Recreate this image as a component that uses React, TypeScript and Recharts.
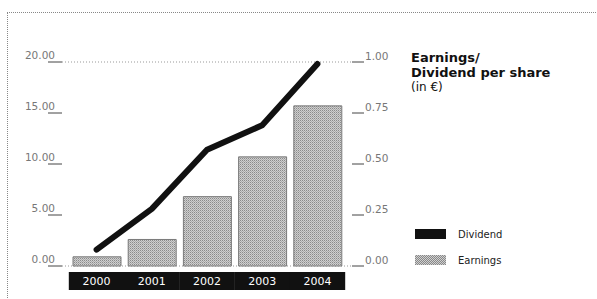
import {
  ComposedChart,
  Bar,
  Line,
  XAxis,
  YAxis,
  CartesianGrid,
  Legend,
} from "recharts";

const years = ["2000", "2001", "2002", "2003", "2004"];
const earnings = [0.9, 2.6, 6.8, 10.7, 15.7];
const dividend = [0.08, 0.28, 0.57, 0.69, 0.99];
const leftTicks = [0, 5, 10, 15, 20];
const rightTicks = [0, 0.25, 0.5, 0.75, 1];

const data = years.map((year, i) => ({
  year,
  earnings: earnings[i],
  dividend: dividend[i],
}));

const tickFont = { fontFamily: "DejaVu Sans", fontSize: 10.5, fill: "#777" };

const LeftTick = ({ y, payload }: any) => (
  <g>
    <line x1={48} x2={62} y1={y} y2={y} stroke="#444" strokeWidth={1} />
    <text x={55} y={y - 3} textAnchor="end" {...tickFont}>
      {payload.value.toFixed(2)}
    </text>
  </g>
);

const RightTick = ({ y, payload }: any) => (
  <g>
    <line x1={352} x2={364} y1={y} y2={y} stroke="#444" strokeWidth={1} />
    <text x={365} y={y - 2} textAnchor="start" {...tickFont}>
      {payload.value.toFixed(2)}
    </text>
  </g>
);

const YearTick = ({ x, payload }: any) => (
  <g>
    <rect x={x - 27.8} y={272} width={55.6} height={18} fill="#111" />
    <text
      x={x}
      y={285}
      textAnchor="middle"
      fontFamily="DejaVu Sans"
      fontSize={11}
      fill="#fff"
    >
      {payload.value}
    </text>
  </g>
);

const swatch = {
  Dividend: { background: "#111" },
  Earnings: {
    background: "repeating-conic-gradient(#888 0 25%, #d0d0d0 0 50%) 0 0/2px 2px",
  },
} as any;

const LegendBox = ({ payload }: any) => {
  const items = [...(payload || [])].sort((a: any, b: any) =>
    a.value === "Dividend" ? -1 : b.value === "Dividend" ? 1 : 0
  );
  return (
    <div style={{ fontFamily: "DejaVu Sans", fontSize: 10, color: "#222" }}>
      {items.map((it: any) => (
        <div
          key={it.value}
          style={{ display: "flex", alignItems: "center", height: 26 }}
        >
          <div style={{ width: 31, height: 10, marginLeft: 3, ...swatch[it.value] }} />
          <span style={{ marginLeft: 12 }}>{it.value}</span>
        </div>
      ))}
    </div>
  );
};

const App = () => (
  <div style={{ position: "absolute", left: 0, top: 0, width: 597, height: 299, background: "#fff" }}>
    <div
      style={{
        position: "absolute",
        left: 7,
        top: 12,
        width: 590,
        height: 287,
        borderTop: "1px dotted #888",
        borderLeft: "1px dotted #888",
      }}
    />
    <div
      style={{
        position: "absolute",
        left: 411,
        top: 50,
        fontFamily: "DejaVu Sans",
        fontSize: 13,
        lineHeight: "15px",
        color: "#111",
      }}
    >
      <div style={{ fontWeight: "bold" }}>Earnings/</div>
      <div style={{ fontWeight: "bold" }}>Dividend per share</div>
      <div style={{ fontSize: 12 }}>(in €)</div>
    </div>
    <ComposedChart
      width={597}
      height={299}
      data={data}
      margin={{ top: 62, right: 0, bottom: 0, left: 0 }}
      style={{ position: "absolute", left: 0, top: 0 }}
    >
      <defs>
        <pattern id="dither" width="2" height="2" patternUnits="userSpaceOnUse">
          <rect width="2" height="2" fill="#cfcfcf" />
          <rect width="1" height="1" fill="#8a8a8a" />
          <rect x="1" y="1" width="1" height="1" fill="#ababab" />
        </pattern>
      </defs>
      <CartesianGrid vertical={false} stroke="#999" strokeDasharray="1 2" />
      <XAxis
        dataKey="year"
        height={33}
        padding={{ left: 7, right: 7 }}
        axisLine={false}
        tickLine={false}
        tick={<YearTick />}
        interval={0}
      />
      <YAxis
        yAxisId="left"
        width={62}
        domain={[0, 20]}
        ticks={leftTicks}
        axisLine={false}
        tickLine={false}
        tick={<LeftTick />}
      />
      <YAxis
        yAxisId="right"
        orientation="right"
        width={245}
        domain={[0, 1]}
        ticks={rightTicks}
        axisLine={false}
        tickLine={false}
        tick={<RightTick />}
      />
      <Bar
        yAxisId="left"
        dataKey="earnings"
        name="Earnings"
        barSize={48}
        fill="url(#dither)"
        stroke="#7a7a7a"
        strokeWidth={1}
        isAnimationActive={false}
      />
      <Line
        yAxisId="right"
        dataKey="dividend"
        name="Dividend"
        type="linear"
        stroke="#111"
        strokeWidth={6}
        strokeLinecap="round"
        strokeLinejoin="round"
        dot={false}
        activeDot={false}
        isAnimationActive={false}
      />
      <Legend
        layout="vertical"
        align="center"
        verticalAlign="middle"
        content={<LegendBox />}
        wrapperStyle={{ left: 412, top: 221, width: 150, height: 52 }}
      />
    </ComposedChart>
  </div>
);

export default App;
